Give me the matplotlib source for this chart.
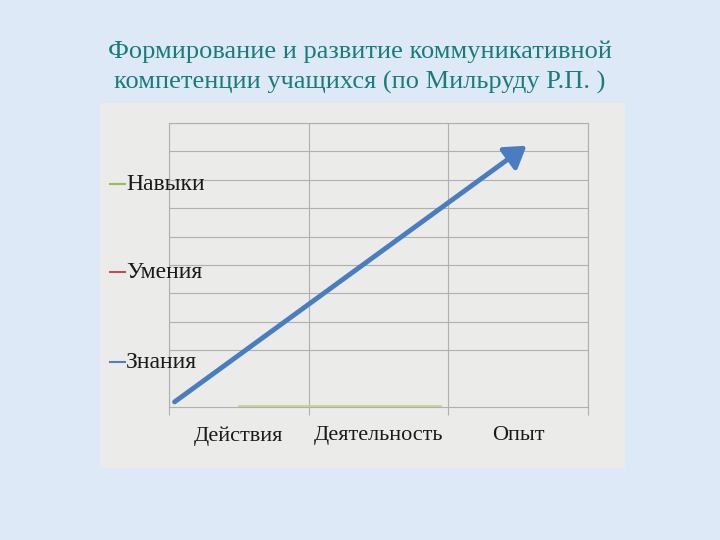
import matplotlib
matplotlib.use("Agg")
import matplotlib.pyplot as plt
from matplotlib.patches import Rectangle
from matplotlib.lines import Line2D

title = "Формирование и развитие коммуникативной\nкомпетенции учащихся (по Мильруду Р.П. )"
categories = ["Действия", "Деятельность", "Опыт"]
series_names = ["Навыки", "Умения", "Знания"]
series_colors = ["#9bbb59", "#c0504d", "#4f81bd"]
grid_levels = [2, 3, 4, 5, 6, 7, 8, 9, 10]
# arrow drawn over the chart (category units, value units)
arrow_x = [-0.46, 2.06]
arrow_y = [0.18, 9.2]

serif = ["Liberation Serif", "DejaVu Serif"]

fig = plt.figure(figsize=(7.2, 5.4), dpi=100)
fig.patch.set_facecolor("#dde9f6")

# chart panel
fig.patches.append(Rectangle((100/720, 1-468/540), 525/720, 365/540,
                             transform=fig.transFigure, facecolor="#ebebea",
                             edgecolor="none", zorder=-10))

fig.text(0.5, 1-67.5/540, title, ha="center", va="center", fontsize=19,
         color="#1b7b7b", family=serif, linespacing=1.45)

ax = fig.add_axes([169/720, 1-407/540, 419/720, 284/540])
ax.set_facecolor("none")
ax.set_zorder(1)
ax.set_xlim(-0.5, 2.5)
ax.set_ylim(0, 10)
grid_c = "#b0b0b0"
for s in ax.spines.values():
    s.set_color(grid_c)
    s.set_linewidth(0.8)
ax.set_yticks(grid_levels)
ax.set_yticklabels([])
ax.tick_params(axis="y", length=0)
ax.yaxis.grid(True, color=grid_c, linewidth=0.8)
ax.set_xticks(range(len(categories)))
ax.set_xticklabels(categories, family=serif, fontsize=16, color="#1a1a1a")
ax.tick_params(axis="x", length=0, pad=14)
ax.set_xticks([-0.5, 0.5, 1.5, 2.5], minor=True)
ax.tick_params(axis="x", which="minor", length=6, color=grid_c, width=0.8)
ax.xaxis.grid(True, which="minor", color=grid_c, linewidth=0.8)
ax.set_axisbelow(True)
# faint olive series line along the bottom
ax.plot([0.0, 1.45], [0.02, 0.02], color="#c9cf8a", lw=1.2, zorder=2, clip_on=False)

ax.annotate("", xy=(arrow_x[1], arrow_y[1]), xytext=(arrow_x[0], arrow_y[0]),
            arrowprops=dict(arrowstyle="-|>,head_length=0.7,head_width=0.45",
                            color="#4a7dbf", lw=3.5, mutation_scale=18,
                            shrinkA=0, shrinkB=0), zorder=5)

legend_y = [184, 272, 362]
for name, col, ypx in zip(series_names, series_colors, legend_y):
    yf = 1 - ypx/540
    fig.add_artist(Line2D([110/720, 125/720], [yf, yf], color=col, lw=1.5,
                          transform=fig.transFigure))
    fig.text(126/720, yf, name, ha="left", va="center", fontsize=17,
             color="#1a1a1a", family=serif)

fig.savefig("out.png", dpi=100, facecolor=fig.get_facecolor())
